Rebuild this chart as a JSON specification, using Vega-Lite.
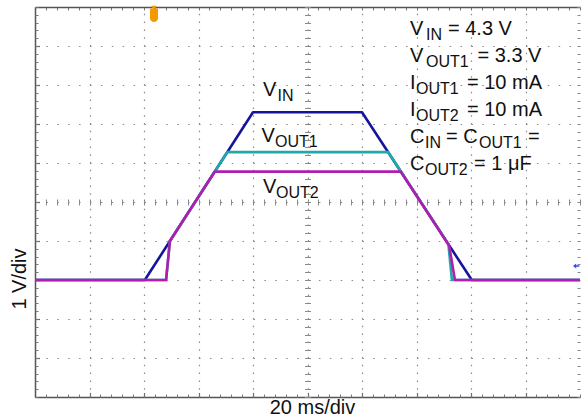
{
  "$schema": "https://vega.github.io/schema/vega-lite/v6.json",
  "width": 545,
  "height": 390,
  "autosize": {"type": "none"},
  "padding": {"left": 35, "top": 7, "right": 1, "bottom": 20},
  "background": "white",
  "config": {"view": {"stroke": null}, "font": "Liberation Sans"},
  "datasets": {
    "traces": [
      {"s": "VIN", "t": 0, "v": 0}, {"s": "VIN", "t": 40.3, "v": 0}, {"s": "VIN", "t": 80, "v": 4.3}, {"s": "VIN", "t": 120, "v": 4.3}, {"s": "VIN", "t": 160.3, "v": 0}, {"s": "VIN", "t": 200, "v": 0},
      {"s": "VOUT1", "t": 0, "v": 0}, {"s": "VOUT1", "t": 48.1, "v": 0}, {"s": "VOUT1", "t": 49.5, "v": 1.0}, {"s": "VOUT1", "t": 70.6, "v": 3.28}, {"s": "VOUT1", "t": 129.6, "v": 3.28}, {"s": "VOUT1", "t": 151.7, "v": 0.92}, {"s": "VOUT1", "t": 153.0, "v": 0}, {"s": "VOUT1", "t": 200, "v": 0},
      {"s": "VOUT2", "t": 0, "v": 0}, {"s": "VOUT2", "t": 48.1, "v": 0}, {"s": "VOUT2", "t": 49.5, "v": 1.0}, {"s": "VOUT2", "t": 66.0, "v": 2.78}, {"s": "VOUT2", "t": 134.2, "v": 2.78}, {"s": "VOUT2", "t": 152.0, "v": 0.88}, {"s": "VOUT2", "t": 154.1, "v": 0}, {"s": "VOUT2", "t": 200, "v": 0}
    ],
    "mainText": [
      {"txt": "V", "x": 137.61, "y": 6.282},
      {"txt": "= 4.3 V", "x": 151.56, "y": 6.282},
      {"txt": "V", "x": 137.61, "y": 5.59},
      {"txt": "= 3.3 V", "x": 162.39, "y": 5.59},
      {"txt": "I", "x": 137.61, "y": 4.897},
      {"txt": "= 10 mA", "x": 158.53, "y": 4.897},
      {"txt": "I", "x": 137.61, "y": 4.205},
      {"txt": "= 10 mA", "x": 158.53, "y": 4.205},
      {"txt": "C", "x": 137.61, "y": 3.513},
      {"txt": "= C", "x": 150.83, "y": 3.513},
      {"txt": "=", "x": 180.92, "y": 3.513},
      {"txt": "C", "x": 137.61, "y": 2.821},
      {"txt": "= 1 μF", "x": 161.1, "y": 2.821},
      {"txt": "V", "x": 83.67, "y": 4.718},
      {"txt": "V", "x": 83.12, "y": 3.538},
      {"txt": "V", "x": 83.67, "y": 2.218}
    ],
    "subText": [
      {"txt": "IN", "x": 143.49, "y": 6.154},
      {"txt": "OUT1", "x": 143.49, "y": 5.462},
      {"txt": "OUT1", "x": 139.82, "y": 4.769},
      {"txt": "OUT2", "x": 139.82, "y": 4.077},
      {"txt": "IN", "x": 143.12, "y": 3.385},
      {"txt": "OUT1", "x": 162.94, "y": 3.385},
      {"txt": "OUT2", "x": 143.12, "y": 2.692},
      {"txt": "IN", "x": 88.99, "y": 4.59},
      {"txt": "OUT1", "x": 88.07, "y": 3.41},
      {"txt": "OUT2", "x": 88.44, "y": 2.09}
    ],
    "trigger": [{"t": 43.67, "v": 6.79}],
    "trigTop": [{"t": 43.67, "v": 6.97}],
    "level": [{"t": 198.6, "v": 0.36}]
  },
  "resolve": {"axis": {"x": "independent", "y": "independent"}},
  "layer": [
    {
      "mark": {"type": "rule", "color": "#999999", "strokeWidth": 1},
      "encoding": {
        "y": {
          "datum": 2, "type": "quantitative",
          "scale": {"domain": [-3, 7], "nice": false, "zero": false},
          "axis": {
            "orient": "left", "values": [-2, -1, 0, 1, 2, 3, 4, 5, 6],
            "grid": true, "gridDash": [1.5, 9.4], "gridColor": "#8a8a8a", "gridWidth": 1.2,
            "domain": true, "domainColor": "#555555", "domainWidth": 1.5,
            "ticks": true, "tickSize": -4.5, "tickColor": "#666666", "tickWidth": 1.2,
            "labels": false,
            "title": "1 V/div", "titleFont": "Liberation Sans", "titleFontSize": 20, "titleFontWeight": "normal", "titleColor": "#111111",
            "titleAngle": -90, "titleAlign": "center", "titleBaseline": "alphabetic", "titleX": -10, "titleY": 271.5
          }
        }
      }
    },
    {
      "mark": {"type": "rule", "color": "#a8a8a8", "strokeWidth": 1},
      "encoding": {
        "x": {
          "datum": 100, "type": "quantitative",
          "scale": {"domain": [0, 200], "nice": false, "zero": false},
          "axis": {
            "orient": "bottom", "values": [20, 40, 60, 80, 100, 120, 140, 160, 180],
            "grid": true, "gridDash": [1.5, 6.3], "gridColor": "#8a8a8a", "gridWidth": 1.2,
            "domain": true, "domainColor": "#555555", "domainWidth": 1.5,
            "ticks": true, "tickSize": -4.5, "tickColor": "#666666", "tickWidth": 1.2,
            "labels": false,
            "title": "20 ms/div", "titleFont": "Liberation Sans", "titleFontSize": 20, "titleFontWeight": "normal", "titleColor": "#111111",
            "titleAlign": "center", "titleBaseline": "alphabetic", "titleX": 277, "titleY": 16
          }
        }
      }
    },
    {
      "data": {"name": "traces"},
      "mark": {"type": "line", "strokeWidth": 2.6, "strokeJoin": "round"},
      "encoding": {
        "x": {
          "field": "t", "type": "quantitative",
          "scale": {"domain": [0, 200], "nice": false, "zero": false},
          "axis": {
            "orient": "bottom", "values": [0,4,8,12,16,20,24,28,32,36,40,44,48,52,56,60,64,68,72,76,80,84,88,92,96,100,104,108,112,116,120,124,128,132,136,140,144,148,152,156,160,164,168,172,176,180,184,188,192,196,200],
            "grid": false, "domain": false, "labels": false, "title": null,
            "ticks": true, "tickSize": -3, "tickColor": "#777777", "tickWidth": 1
          }
        },
        "y": {
          "field": "v", "type": "quantitative",
          "scale": {"domain": [-3, 7], "nice": false, "zero": false},
          "axis": {
            "orient": "left", "values": [-3,-2.8,-2.6,-2.4,-2.2,-2,-1.8,-1.6,-1.4,-1.2,-1,-0.8,-0.6,-0.4,-0.2,0,0.2,0.4,0.6,0.8,1,1.2,1.4,1.6,1.8,2,2.2,2.4,2.6,2.8,3,3.2,3.4,3.6,3.8,4,4.2,4.4,4.6,4.8,5,5.2,5.4,5.6,5.8,6,6.2,6.4,6.6,6.8,7],
            "grid": false, "domain": false, "labels": false, "title": null,
            "ticks": true, "tickSize": -3, "tickColor": "#777777", "tickWidth": 1
          }
        },
        "color": {
          "field": "s", "type": "nominal", "legend": null,
          "scale": {"domain": ["VIN", "VOUT1", "VOUT2"], "range": ["#15159c", "#1fa9a9", "#b01eb0"]}
        },
        "order": {"field": "t", "type": "quantitative"}
      }
    },
    {
      "data": {"name": "mainText"},
      "mark": {"type": "text", "align": "left", "baseline": "alphabetic", "fontSize": 20, "font": "Liberation Sans", "color": "#111111"},
      "encoding": {
        "x": {
          "field": "x", "type": "quantitative",
          "scale": {"domain": [0, 200], "nice": false, "zero": false},
          "axis": {
            "orient": "top", "values": [0,4,8,12,16,20,24,28,32,36,40,44,48,52,56,60,64,68,72,76,80,84,88,92,96,100,104,108,112,116,120,124,128,132,136,140,144,148,152,156,160,164,168,172,176,180,184,188,192,196,200],
            "grid": false, "labels": false, "title": null,
            "domain": true, "domainColor": "#555555", "domainWidth": 1.5,
            "ticks": true, "tickSize": -3, "tickColor": "#777777", "tickWidth": 1
          }
        },
        "y": {
          "field": "y", "type": "quantitative",
          "scale": {"domain": [-3, 7], "nice": false, "zero": false},
          "axis": {
            "orient": "right", "values": [-3,-2.8,-2.6,-2.4,-2.2,-2,-1.8,-1.6,-1.4,-1.2,-1,-0.8,-0.6,-0.4,-0.2,0,0.2,0.4,0.6,0.8,1,1.2,1.4,1.6,1.8,2,2.2,2.4,2.6,2.8,3,3.2,3.4,3.6,3.8,4,4.2,4.4,4.6,4.8,5,5.2,5.4,5.6,5.8,6,6.2,6.4,6.6,6.8,7],
            "grid": false, "domain": false, "labels": false, "title": null,
            "ticks": true, "tickSize": -3, "tickColor": "#888888", "tickWidth": 1
          }
        },
        "text": {"field": "txt"}
      }
    },
    {
      "data": {"name": "subText"},
      "mark": {"type": "text", "align": "left", "baseline": "alphabetic", "fontSize": 16, "font": "Liberation Sans", "color": "#111111"},
      "encoding": {
        "x": {
          "field": "x", "type": "quantitative",
          "scale": {"domain": [0, 200], "nice": false, "zero": false},
          "axis": {
            "orient": "bottom", "offset": -198, "values": [0,4,8,12,16,20,24,28,32,36,40,44,48,52,56,60,64,68,72,76,80,84,88,92,96,100,104,108,112,116,120,124,128,132,136,140,144,148,152,156,160,164,168,172,176,180,184,188,192,196,200],
            "grid": false, "domain": false, "labels": false, "title": null,
            "ticks": true, "tickSize": 6, "tickColor": "#8a8a8a", "tickWidth": 1
          }
        },
        "y": {
          "field": "y", "type": "quantitative",
          "scale": {"domain": [-3, 7], "nice": false, "zero": false},
          "axis": {
            "orient": "left", "offset": -275.5, "values": [-3,-2.8,-2.6,-2.4,-2.2,-2,-1.8,-1.6,-1.4,-1.2,-1,-0.8,-0.6,-0.4,-0.2,0,0.2,0.4,0.6,0.8,1,1.2,1.4,1.6,1.8,2,2.2,2.4,2.6,2.8,3,3.2,3.4,3.6,3.8,4,4.2,4.4,4.6,4.8,5,5.2,5.4,5.6,5.8,6,6.2,6.4,6.6,6.8,7],
            "grid": false, "domain": false, "labels": false, "title": null,
            "ticks": true, "tickSize": 6, "tickColor": "#8a8a8a", "tickWidth": 1
          }
        },
        "text": {"field": "txt"}
      }
    },
    {
      "data": {"name": "trigger"},
      "mark": {"type": "point", "shape": "M-0.6,-1H0.6V0.45A0.6,0.55 0 0 1 -0.6,0.45Z", "size": 180, "filled": true, "color": "#f39a00", "opacity": 1},
      "encoding": {
        "x": {"field": "t", "type": "quantitative", "scale": {"domain": [0, 200], "nice": false, "zero": false}, "axis": null},
        "y": {"field": "v", "type": "quantitative", "scale": {"domain": [-3, 7], "nice": false, "zero": false}, "axis": null}
      }
    },
    {
      "data": {"name": "trigTop"},
      "mark": {"type": "point", "shape": "triangle-down", "size": 30, "filled": true, "color": "#f39a00", "opacity": 1},
      "encoding": {
        "x": {"field": "t", "type": "quantitative", "scale": {"domain": [0, 200], "nice": false, "zero": false}, "axis": null},
        "y": {"field": "v", "type": "quantitative", "scale": {"domain": [-3, 7], "nice": false, "zero": false}, "axis": null}
      }
    },
    {
      "data": {"name": "level"},
      "mark": {"type": "point", "shape": "M-1,0L0,-0.8V-0.25H1V0.25H0V0.8Z", "size": 40, "filled": true, "color": "#2f4cff", "opacity": 1},
      "encoding": {
        "x": {"field": "t", "type": "quantitative", "scale": {"domain": [0, 200], "nice": false, "zero": false}, "axis": null},
        "y": {"field": "v", "type": "quantitative", "scale": {"domain": [-3, 7], "nice": false, "zero": false}, "axis": null}
      }
    }
  ]
}
